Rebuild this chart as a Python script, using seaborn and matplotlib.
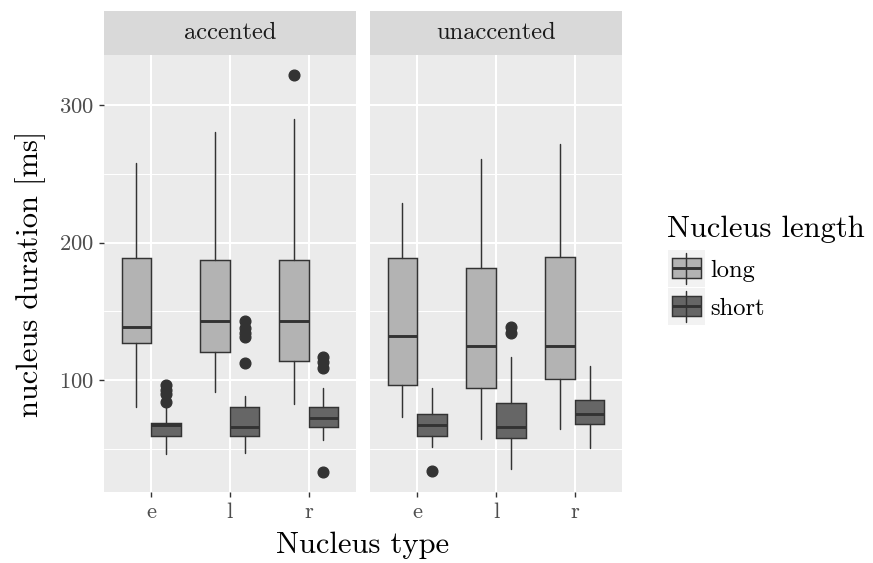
import matplotlib
matplotlib.use("Agg")
import matplotlib.pyplot as plt
from matplotlib.patches import Rectangle
from matplotlib.lines import Line2D
from matplotlib.ticker import FixedLocator
import pandas as pd
import seaborn as sns

# ---- data -----------------------------------------------------------------
accents = ["accented", "unaccented"]
nucleus_types = ["e", "l", "r"]
lengths = ["long", "short"]

# box summaries, ordered accent -> nucleus type -> length
box_accent = ["accented"] * 6 + ["unaccented"] * 6
box_nucleus = ["e", "e", "l", "l", "r", "r"] * 2
box_length = ["long", "short"] * 6
whisker_low = [80, 46, 91.5, 47, 82.5, 56.5, 73, 51, 57, 35.5, 64.5, 50.5]
q1 = [127, 59.5, 120.5, 59, 113.5, 65.5, 96.5, 59.5, 94.5, 57.5, 100.5, 68]
median = [138.5, 67, 143, 65.5, 143, 72.5, 132, 67, 124.5, 65.5, 124.5, 75]
q3 = [189, 69, 187, 80, 187, 80.5, 189, 75.5, 181.5, 83, 189.5, 85.5]
whisker_high = [258, 79.5, 280.5, 88, 289.5, 94.5, 229, 94.5, 260.5, 117, 271.5, 110]
outliers = [
    [], [96, 93, 90, 84],
    [], [143, 137.5, 134, 131, 112],
    [321.5], [117, 113, 108.5, 33],
    [], [34],
    [], [138.5, 134],
    [], [],
]

y_ticks = [100, 200, 300]
y_minor = [50, 150, 250]

fill_colors = {"long": "#B3B3B3", "short": "#666666"}
edge_color = "#333333"

df = pd.DataFrame({
    "accent": box_accent, "nucleus": box_nucleus, "length": box_length,
    "lo": whisker_low, "q1": q1, "med": median, "q3": q3,
    "hi": whisker_high, "fliers": outliers,
})

# ---- style ------------------------------------------------------------------
sns.set_theme(style="darkgrid", rc={
    "axes.facecolor": "#EBEBEB",
    "grid.color": "white",
    "axes.edgecolor": "none",
})
plt.rcParams["font.family"] = ["cmr10", "DejaVu Sans"]
plt.rcParams["mathtext.fontset"] = "cm"
plt.rcParams["axes.formatter.use_mathtext"] = True

DODGE = 0.1875
WIDTH = 0.375
LW = 1.05


def draw_boxes(data, **kws):
    ax = plt.gca()
    stats, positions, fills = [], [], []
    for _, row in data.iterrows():
        offset = -DODGE if row["length"] == "long" else DODGE
        positions.append(nucleus_types.index(row["nucleus"]) + offset)
        stats.append(dict(whislo=row["lo"], q1=row["q1"], med=row["med"],
                          q3=row["q3"], whishi=row["hi"], fliers=row["fliers"]))
        fills.append(fill_colors[row["length"]])
    art = ax.bxp(
        stats, positions=positions, widths=WIDTH, patch_artist=True,
        showcaps=False, manage_ticks=False,
        boxprops=dict(edgecolor=edge_color, linewidth=LW),
        whiskerprops=dict(color=edge_color, linewidth=LW),
        medianprops=dict(color=edge_color, linewidth=2.1, solid_capstyle="butt"),
        flierprops=dict(marker="o", markersize=7.7, markerfacecolor=edge_color,
                        markeredgecolor=edge_color, linestyle="none"),
    )
    for patch, fc in zip(art["boxes"], fills):
        patch.set_facecolor(fc)


g = sns.FacetGrid(df, col="accent", col_order=accents, sharey=True, despine=False)
g.map_dataframe(draw_boxes)
fig = g.figure
fig.set_size_inches(8.73, 5.63)
fig.set_dpi(100)
g.set_titles("")

W, H = 873.0, 563.0
panel_top, panel_bottom = 55.0, 492.3
panels_px = [(104.0, 355.7), (370.0, 622.0)]
strip_frac = 44.0 / (panel_bottom - panel_top)

for i, (ax, name) in enumerate(zip(g.axes.flat, accents)):
    x0, x1 = panels_px[i]
    ax.set_position([x0 / W, 1 - panel_bottom / H, (x1 - x0) / W,
                     (panel_bottom - panel_top) / H])
    ax.set_xlim(-0.6, 2.6)
    ax.set_ylim(18.3, 336.4)
    ax.set_xticks(range(len(nucleus_types)))
    ax.set_xticklabels(nucleus_types)
    ax.set_yticks(y_ticks)
    ax.yaxis.set_minor_locator(FixedLocator(y_minor))
    ax.grid(which="major", color="white", linewidth=1.5)
    ax.grid(which="minor", axis="y", color="white", linewidth=0.75)
    ax.set_axisbelow(True)
    ax.tick_params(which="major", length=3.6, width=1.0, color=edge_color,
                   labelsize=16.3, labelcolor="#4D4D4D", pad=3.5,
                   bottom=True, left=(i == 0), labelleft=(i == 0))
    ax.tick_params(which="minor", length=0)
    ax.set_xlabel("")
    ax.set_ylabel("")
    for s in ax.spines.values():
        s.set_visible(False)
    # facet strip
    ax.add_patch(Rectangle((0, 1), 1, strip_frac, transform=ax.transAxes,
                           facecolor="#D9D9D9", edgecolor="none", clip_on=False))
    ax.text(0.5, 1 + strip_frac / 2, name, transform=ax.transAxes,
            ha="center", va="center", fontsize=17.6, color="#1A1A1A")

fig.text(363 / W, 1 - 545 / H, "Nucleus type", ha="center", va="center",
         fontsize=22, color="black")
fig.text(31 / W, 1 - 273.7 / H, "nucleus duration [ms]", ha="center",
         va="center", rotation=90, fontsize=22, color="black")

# ---- legend ---------------------------------------------------------------
lax = fig.add_axes([0, 0, 1, 1], facecolor="none")
lax.set_xlim(0, W)
lax.set_ylim(H, 0)
lax.axis("off")
lax.text(667, 237, "Nucleus length", ha="left", va="baseline", fontsize=22,
         color="black")
key_tops = [250.0, 288.0]
for lab, top in zip(lengths, key_tops):
    lax.add_patch(Rectangle((667.7, top), 37.3, 36.7, facecolor="#F2F2F2",
                            edgecolor="none"))
    cy = top + 18.3
    lax.add_line(Line2D([686, 686], [top + 2.5, top + 34.2], color=edge_color,
                        linewidth=LW))
    lax.add_patch(Rectangle((671.5, cy - 10), 29, 20, facecolor=fill_colors[lab],
                            edgecolor=edge_color, linewidth=LW))
    lax.add_line(Line2D([671.5, 700.5], [cy, cy], color=edge_color,
                        linewidth=2.1, solid_capstyle="butt"))
    lax.text(710, cy, lab, ha="left", va="center_baseline", fontsize=17.6,
             color="black")

fig.savefig("out.png", dpi=100)
